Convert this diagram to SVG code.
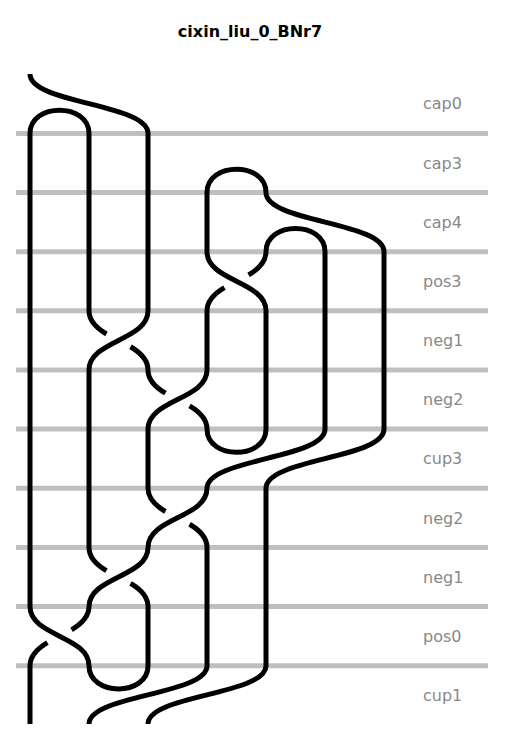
<svg xmlns="http://www.w3.org/2000/svg" width="505" height="756" viewBox="0 0 505 756">
<style>
.grid{stroke:#bfbfbf;stroke-width:5;fill:none}
.lbl{font-family:"DejaVu Sans","Liberation Sans",sans-serif;font-size:16px;fill:#888888}
.title{font-family:"DejaVu Sans","Liberation Sans",sans-serif;font-size:16px;font-weight:bold;fill:#000000}
.strand{stroke:#000000;stroke-width:5;fill:none;stroke-linecap:butt;stroke-linejoin:round}
</style>
<rect x="0" y="0" width="505" height="756" fill="#ffffff"/>
<text class="title" x="250" y="37" text-anchor="middle">cixin_liu_0_BNr7</text>
<g id="rows">
  <g id="row-cap0"><text class="lbl" x="423" y="109.3">cap0</text></g>
  <g id="row-cap3"><line class="grid" x1="16" y1="133.4" x2="488" y2="133.4"/><text class="lbl" x="423" y="168.6">cap3</text></g>
  <g id="row-cap4"><line class="grid" x1="16" y1="192.5" x2="488" y2="192.5"/><text class="lbl" x="423" y="227.7">cap4</text></g>
  <g id="row-pos3"><line class="grid" x1="16" y1="251.7" x2="488" y2="251.7"/><text class="lbl" x="423" y="286.9">pos3</text></g>
  <g id="row-neg1a"><line class="grid" x1="16" y1="310.8" x2="488" y2="310.8"/><text class="lbl" x="423" y="346">neg1</text></g>
  <g id="row-neg2a"><line class="grid" x1="16" y1="370" x2="488" y2="370"/><text class="lbl" x="423" y="405.2">neg2</text></g>
  <g id="row-cup3"><line class="grid" x1="16" y1="429.1" x2="488" y2="429.1"/><text class="lbl" x="423" y="464.3">cup3</text></g>
  <g id="row-neg2b"><line class="grid" x1="16" y1="488.3" x2="488" y2="488.3"/><text class="lbl" x="423" y="523.5">neg2</text></g>
  <g id="row-neg1b"><line class="grid" x1="16" y1="547.4" x2="488" y2="547.4"/><text class="lbl" x="423" y="582.6">neg1</text></g>
  <g id="row-pos0"><line class="grid" x1="16" y1="606.6" x2="488" y2="606.6"/><text class="lbl" x="423" y="641.8">pos0</text></g>
  <g id="row-cup1"><line class="grid" x1="16" y1="665.7" x2="488" y2="665.7"/><text class="lbl" x="423" y="700.5">cup1</text></g>
</g>
<g id="strands">
  <path class="strand" d="M30,74 C30,103.7 148,103.7 148,133.4 L148,310.8 C148,340.4 89,340.4 89,370 L89,547.4 C89,558.05 96.65,564.86 106.43,570.6"/>
  <path class="strand" d="M130.57,583.35 C140.35,589.09 148,595.9 148,606.6 L148,665.7 C148,696.7 89,696.7 89,665.7 C89,636.2 30,636.2 30,606.6 L30,133.4 C30,102.4 89,102.4 89,133.4 L89,310.8 C89,321.45 96.65,328.26 106.43,334"/>
  <path class="strand" d="M130.57,346.75 C140.35,352.49 148,359.3 148,370 C148,380.65 155.65,387.46 165.43,393.2"/>
  <path class="strand" d="M189.57,405.95 C199.35,411.69 207,418.5 207,429.1 C207,460.1 266,460.1 266,429.1 L266,310.8 C266,281.25 207,281.25 207,251.7 L207,192.5 C207,161.5 266,161.5 266,192.5 C266,222.1 384,222.1 384,251.7 L384,429.1 C384,458.7 266,458.7 266,488.3 L266,665.7 C266,694.9 148,694.9 148,724"/>
  <path class="strand" d="M30,724 L30,665.7 C30,655.1 37.65,648.29 47.43,642.55"/>
  <path class="strand" d="M71.57,629.8 C81.35,624.06 89,617.25 89,606.6 C89,577 148,577 148,547.4 C148,517.85 207,517.85 207,488.3 C207,458.7 325,458.7 325,429.1 L325,251.7 C325,220.7 266,220.7 266,251.7 C266,262.35 258.35,269.16 248.57,274.9"/>
  <path class="strand" d="M224.43,287.65 C214.65,293.39 207,300.2 207,310.8 L207,370 C207,399.55 148,399.55 148,429.1 L148,488.3 C148,498.95 155.65,505.76 165.43,511.5"/>
  <path class="strand" d="M189.57,524.25 C199.35,529.99 207,536.8 207,547.4 L207,665.7 C207,694.9 89,694.9 89,724"/>
</g>
</svg>
